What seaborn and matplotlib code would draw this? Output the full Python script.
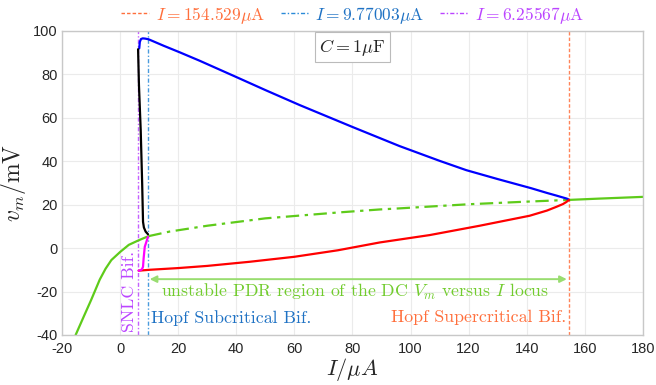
import numpy as np
import pandas as pd
import matplotlib
matplotlib.use("Agg")
import matplotlib.pyplot as plt
import seaborn as sns
from matplotlib.lines import Line2D

# ---------------- data ----------------
# DC locus (green): stable left branch, unstable middle branch, stable right branch
green_left_I = [-15.3, -12.5, -10.0, -7.0, -5.0, -3.0, 0.0, 3.0, 6.4, 9.77]
green_left_v = [-40.0, -31.5, -24.0, -14.5, -9.5, -5.5, -1.8, 1.5, 3.6, 5.5]
green_mid_I = [9.77, 17.0, 30.0, 50.0, 75.0, 89.4, 96.2, 120.0, 140.0, 154.53]
green_mid_v = [5.5, 7.6, 10.3, 13.7, 16.4, 17.8, 18.3, 20.2, 21.4, 22.2]
green_right_I = [154.53, 165.0, 180.0]
green_right_v = [22.2, 22.8, 23.6]

# limit cycle maximum (blue)
blue_I = [6.6, 6.8, 7.2, 7.8, 8.6, 9.77, 15.0, 20.5, 27.4, 40.0, 50.0, 61.8, 80.0,
          96.2, 110.0, 119.2, 130.0, 141.5, 147.0, 150.2, 152.5, 153.8, 154.4, 154.53]
blue_v = [92.0, 95.0, 96.3, 96.6, 96.5, 96.2, 93.2, 90.2, 86.3, 78.8, 72.8, 65.9, 55.8,
          47.0, 40.2, 35.9, 31.8, 27.6, 25.4, 24.2, 23.3, 22.8, 22.4, 22.2]

# limit cycle minimum (red)
red_I = [6.4, 10.0, 20.0, 30.0, 44.6, 60.0, 75.0, 89.4, 106.6, 123.8, 141.0,
         147.0, 150.2, 152.5, 153.6, 154.2, 154.53]
red_v = [-10.4, -10.0, -9.2, -8.2, -6.3, -4.0, -1.0, 2.6, 6.0, 10.3, 14.9,
         17.3, 19.0, 20.3, 21.2, 21.8, 22.2]

# unstable limit cycle branch (black: max, magenta: min)
black_I = [6.2, 6.5, 7.1, 7.6, 7.9, 8.2, 8.8, 9.6]
black_v = [91.6, 75.0, 54.4, 30.0, 12.1, 9.5, 7.6, 6.4]
mag_I = [9.6, 9.2, 8.5, 8.1, 7.9, 7.5, 6.8, 6.4]
mag_v = [5.2, 3.5, 0.6, -4.8, -8.6, -9.8, -10.3, -10.4]

# bifurcation points
bif_I = [154.529, 9.77003, 6.25567]
bif_labels = [r"$I = 154.529\mu\mathrm{A}$", r"$I = 9.77003\mu\mathrm{A}$",
              r"$I = 6.25567\mu\mathrm{A}$"]

x_ticks = [-20, 0, 20, 40, 60, 80, 100, 120, 140, 160, 180]
y_ticks = [-40, -20, 0, 20, 40, 60, 80, 100]

# ---------------- styling ----------------
sns.set_theme(style="whitegrid")
plt.rcParams["font.family"] = ["Liberation Sans", "DejaVu Sans"]
plt.rcParams["mathtext.fontset"] = "cm"
plt.rcParams["axes.unicode_minus"] = False

c_green = "#5ecb1a"
c_green_txt = "#72cc2e"
c_arrow = "#99dd70"
c_orange = "#ff6f3c"
c_blue_v = "#2a8ad8"
c_blue_txt = "#1f72c4"
c_purple = "#bb44ff"

fig = plt.figure(figsize=(6.56, 3.85), dpi=100)
ax = fig.add_axes([0.0945, 0.130, 0.8855, 0.7895])

def seg(I, v, color, ls="-", lw=1.6):
    df = pd.DataFrame({"I": I, "v": v})
    sns.lineplot(data=df, x="I", y="v", color=color, linestyle=ls, linewidth=lw,
                 sort=False, estimator=None, ax=ax, legend=False)

# vertical bifurcation lines
vcolors = [c_orange, c_blue_v, c_purple]
vstyles = [(0, (2.5, 1.5)), (0, (3, 1.5, 1, 1.5)), (0, (3, 1.5, 1, 1.5))]
for xi, col, st in zip(bif_I, vcolors, vstyles):
    ax.axvline(xi, color=col, linestyle=st, linewidth=1.0, alpha=0.85, zorder=1)

seg(green_left_I, green_left_v, c_green)
seg(green_mid_I, green_mid_v, c_green, ls=(0, (6, 2.5, 1.5, 2.5)))
seg(green_right_I, green_right_v, c_green)
seg(blue_I, blue_v, "#0000ff")
seg(red_I, red_v, "#ff0000")
seg(black_I, black_v, "black")
seg(mag_I, mag_v, "#ff00ff")

ax.set_xlim(-20, 180)
ax.set_ylim(-40, 100)
ax.set_xticks(x_ticks)
ax.set_yticks(y_ticks)
ax.tick_params(labelsize=10.5, colors="#262626", direction="in", length=3)
ax.tick_params(axis="x", pad=5)
ax.tick_params(axis="y", pad=3)
ax.grid(True, color="#ebebeb", linewidth=0.8)
for s in ax.spines.values():
    s.set_color("#c8c8c8")
    s.set_linewidth(1.0)
ax.set_facecolor("white")

ax.set_xlabel(r"$I/\mu A$", fontsize=16, labelpad=0)
ax.set_ylabel(r"$v_m/\mathrm{mV}$", fontsize=17, labelpad=4)

# legend above axes
handles = [Line2D([], [], color=c, linestyle=s, linewidth=1.0) for c, s in zip(vcolors, vstyles)]
leg = ax.legend(handles, bif_labels, loc="lower center", bbox_to_anchor=(0.5, 0.995),
                ncol=3, frameon=False, fontsize=12.5, handlelength=1.6,
                handletextpad=0.4, columnspacing=0.9, borderaxespad=0.0)
for t, c in zip(leg.get_texts(), [c_orange, c_blue_txt, c_purple]):
    t.set_color(c)

# annotations
ax.text(80, 92.6, r"$C = 1\mu\mathrm{F}$", fontsize=13, ha="center", va="center",
        bbox=dict(boxstyle="square,pad=0.25", facecolor="white", edgecolor="#bbbbbb",
                  linewidth=0.8))
ax.text(5.9, -38.5, "SNLC Bif.", rotation=90, color=c_purple, fontsize=12.8,
        family="cmr10", ha="right", va="bottom")
ax.text(10.8, -32.3, "Hopf Subcritical Bif.", color=c_blue_txt, fontsize=12.8,
        family="cmr10", ha="left", va="center")
ax.text(153.6, -32.0, "Hopf Supercritical Bif.", color=c_orange, fontsize=12.8,
        family="cmr10", ha="right", va="center")
ax.text(14.2, -20.0, r"unstable PDR region of the DC $V_m$ versus $I$ locus",
        color=c_green_txt, fontsize=12.8, family="cmr10", ha="left", va="center")
ax.annotate("", xy=(10.2, -14.3), xytext=(153.8, -14.3),
            arrowprops=dict(arrowstyle="<|-|>", color=c_arrow, lw=1.4,
                            mutation_scale=10, shrinkA=0, shrinkB=0))

fig.savefig("out.png", dpi=100)
